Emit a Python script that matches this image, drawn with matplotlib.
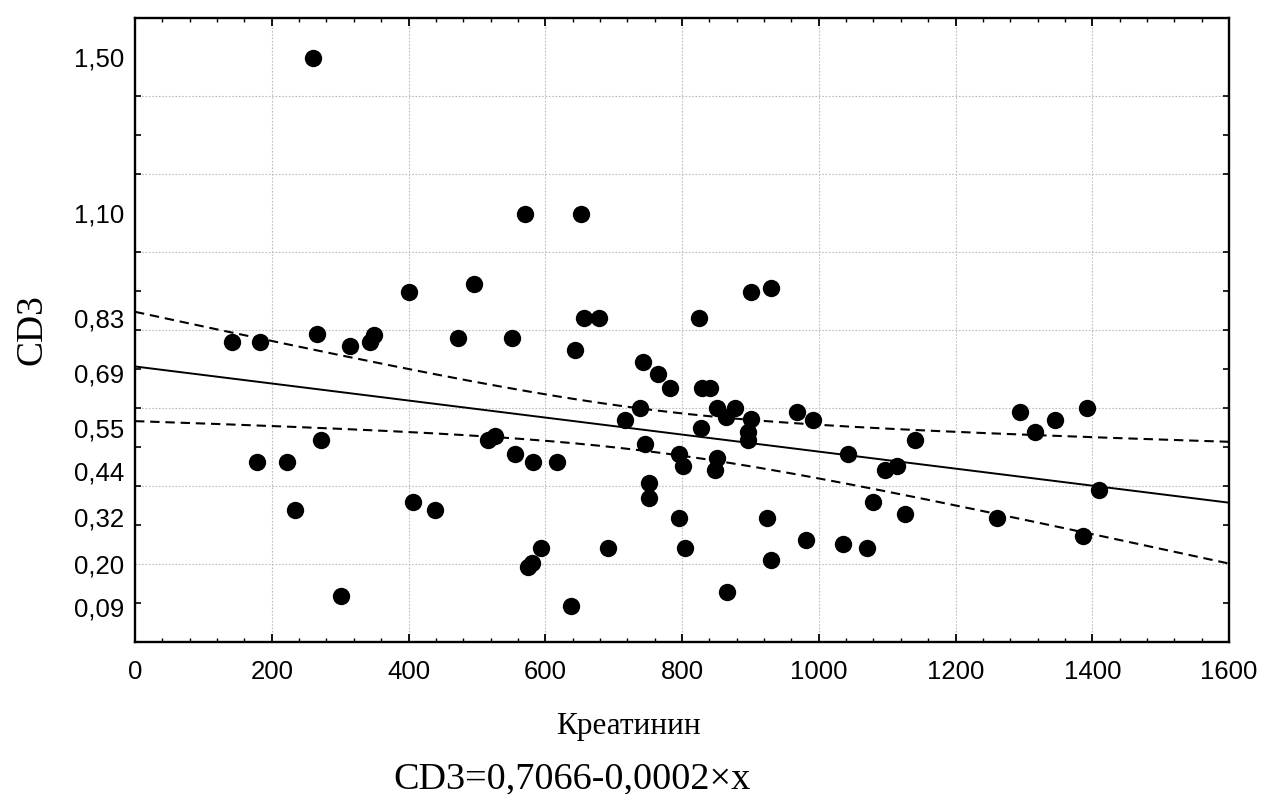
import numpy as np
import matplotlib
matplotlib.use("Agg")
import matplotlib.pyplot as plt
from matplotlib.ticker import MultipleLocator, FixedLocator

# ---- data (Креатинин vs CD3) ----
kreatinin = [142, 183, 266, 315, 344, 350, 473, 552, 260, 400,
             496, 272, 178, 222, 234, 301, 406, 439, 517, 527,
             644, 743, 765, 783, 829, 841, 738, 717, 851, 878,
             865, 901, 896, 896, 828, 968, 992, 1043, 1080, 556,
             582, 617, 746, 795, 801, 851, 848, 752, 752, 796,
             924, 594, 575, 580, 692, 804, 982, 930, 1036, 1070,
             638, 866, 570, 652, 657, 679, 825, 901, 930, 1141,
             1097, 1114, 1126, 1261, 1295, 1316, 1346, 1393, 1410, 1387]
cd3 = [0.768, 0.768, 0.789, 0.759, 0.768, 0.787, 0.779, 0.779, 1.496, 0.897,
       0.917, 0.518, 0.461, 0.461, 0.339, 0.119, 0.360, 0.339, 0.518, 0.528,
       0.749, 0.717, 0.687, 0.651, 0.651, 0.651, 0.600, 0.570, 0.600, 0.600,
       0.577, 0.571, 0.540, 0.518, 0.548, 0.589, 0.570, 0.483, 0.359, 0.483,
       0.461, 0.461, 0.508, 0.483, 0.452, 0.473, 0.442, 0.409, 0.369, 0.318,
       0.318, 0.241, 0.192, 0.203, 0.241, 0.241, 0.262, 0.211, 0.252, 0.241,
       0.093, 0.128, 1.097, 1.097, 0.830, 0.830, 0.830, 0.897, 0.907, 0.518,
       0.442, 0.452, 0.329, 0.318, 0.589, 0.538, 0.570, 0.600, 0.390, 0.273]

intercept = 0.7066
slope = -0.000218
t_crit = 1.991

ytick_vals = [1.50, 1.10, 0.83, 0.69, 0.55, 0.44, 0.32, 0.20, 0.09]
ytick_labels = ["1,50", "1,10", "0,83", "0,69", "0,55", "0,44", "0,32", "0,20", "0,09"]
xtick_vals = [0, 200, 400, 600, 800, 1000, 1200, 1400, 1600]
y_grid = [0.2, 0.4, 0.6, 0.8, 1.0, 1.2, 1.4]

xlabel = "Креатинин"
ylabel = "CD3"
equation = "CD3=0,7066-0,0002×x"

# ---- figure ----
W, H = 1263, 794
fig = plt.figure(figsize=(W / 100, H / 100), dpi=100)
ax = fig.add_axes([135 / W, 1 - 642.4 / H, (1229 - 135) / W, (642.4 - 17.6) / H])

x = np.array(kreatinin, dtype=float)
y = np.array(cd3, dtype=float)
n = len(x)
xbar = x.mean()
sxx = ((x - xbar) ** 2).sum()
resid = y - (intercept + slope * x)
s = np.sqrt((resid ** 2).sum() / (n - 2))

xx = np.linspace(0, 1600, 200)
fit = intercept + slope * xx
hw = t_crit * s * np.sqrt(1 / n + (xx - xbar) ** 2 / sxx)

grid_kw = dict(color="#bdbdbd", linestyle=(0, (1.5, 1.5)), linewidth=0.8, zorder=0)
for g in y_grid:
    ax.axhline(g, **grid_kw)
for g in xtick_vals[1:-1]:
    ax.axvline(g, **grid_kw)

ax.plot(xx, fit, color="black", linewidth=1.4, zorder=2)
ax.plot(xx, fit + hw, color="black", linewidth=1.5, linestyle=(0, (4.5, 2.8)), zorder=2)
ax.plot(xx, fit - hw, color="black", linewidth=1.5, linestyle=(0, (4.5, 2.8)), zorder=2)
ax.plot(x, y, "o", color="black", markersize=12.5, markeredgewidth=0, zorder=3)

ax.set_xlim(0, 1600)
ax.set_ylim(0, 1.6)

tick_font = dict(family=["Liberation Sans", "DejaVu Sans"], size=18.5)
ax.xaxis.set_major_locator(FixedLocator(xtick_vals))
ax.xaxis.set_minor_locator(MultipleLocator(40))
ax.set_xticklabels([str(v) for v in xtick_vals], fontdict=tick_font)
ax.yaxis.set_major_locator(FixedLocator(ytick_vals))
ax.set_yticklabels(ytick_labels, fontdict=tick_font)
ax.yaxis.set_minor_locator(MultipleLocator(0.1))

ax.tick_params(axis="x", which="major", direction="in", length=6, width=1.3,
               top=True, bottom=True, pad=13, colors="black")
ax.tick_params(axis="x", which="minor", direction="in", length=3, width=1.0,
               top=True, bottom=True)
ax.tick_params(axis="y", which="major", direction="in", length=0, pad=8,
               left=True, right=True)
ax.tick_params(axis="y", which="minor", direction="in", length=4, width=1.2,
               left=True, right=True)
for sp in ax.spines.values():
    sp.set_linewidth(1.7)
    sp.set_color("black")

serif = ["Liberation Serif", "DejaVu Serif"]
fig.text(32 / W, 1 - 330 / H, ylabel, rotation=90, ha="center", va="center",
         family=serif, size=27)
fig.text(628 / W, 1 - 734 / H, xlabel, ha="center", va="baseline",
         family=serif, size=22.5)
fig.text(572 / W, 1 - 788 / H, equation, ha="center", va="baseline",
         family=serif, size=27.5)

fig.savefig("out.png", dpi=100, facecolor="white")
